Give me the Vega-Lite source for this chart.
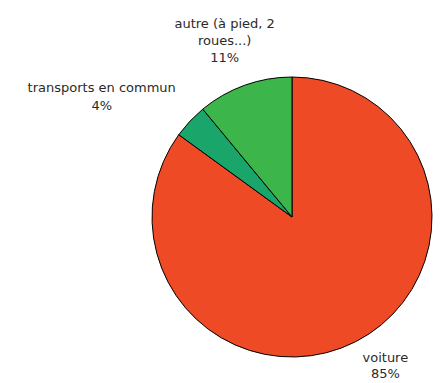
{
  "$schema": "https://vega.github.io/schema/vega-lite/v6.json",
  "autosize": {"type": "none"},
  "width": 280,
  "height": 282,
  "padding": {"left": 152, "right": 8, "top": 76, "bottom": 25},
  "background": "white",
  "config": {"view": {"stroke": null}},
  "data": {
    "values": [
      {"cat": "voiture", "value": 85, "order": 1, "label": "voiture\n85%"},
      {"cat": "transports en commun", "value": 4, "order": 2, "label": "transports en commun\n4%"},
      {"cat": "autre", "value": 11, "order": 3, "label": "autre (à pied, 2\nroues...)\n11%"}
    ]
  },
  "encoding": {
    "theta": {"field": "value", "type": "quantitative", "stack": true},
    "order": {"field": "order", "type": "quantitative"}
  },
  "layer": [
    {
      "mark": {"type": "arc", "stroke": "black", "strokeWidth": 1},
      "encoding": {
        "color": {
          "field": "cat",
          "type": "nominal",
          "scale": {"domain": ["voiture", "transports en commun", "autre"], "range": ["#ef4a26", "#1aa66a", "#3cb54a"]},
          "legend": null
        }
      }
    },
    {
      "mark": {"type": "text", "radius": 177, "dx": 13, "dy": -17, "font": "DejaVu Sans", "fontSize": 13, "fill": "#2a2a2a", "lineBreak": "\n", "lineHeight": 16, "align": "center", "baseline": "middle"},
      "encoding": {"text": {"condition": {"test": "datum.cat === 'voiture'", "field": "label"}, "value": ""}}
    },
    {
      "mark": {"type": "text", "radius": 224, "dx": -27, "dy": 24, "font": "DejaVu Sans", "fontSize": 13, "fill": "#2a2a2a", "lineBreak": "\n", "lineHeight": 18, "align": "center", "baseline": "middle"},
      "encoding": {"text": {"condition": {"test": "datum.cat === 'transports en commun'", "field": "label"}, "value": ""}}
    },
    {
      "mark": {"type": "text", "radius": 187, "dx": -4, "dy": -17, "font": "DejaVu Sans", "fontSize": 13, "fill": "#2a2a2a", "lineBreak": "\n", "lineHeight": 17, "align": "center", "baseline": "middle"},
      "encoding": {"text": {"condition": {"test": "datum.cat === 'autre'", "field": "label"}, "value": ""}}
    }
  ]
}
